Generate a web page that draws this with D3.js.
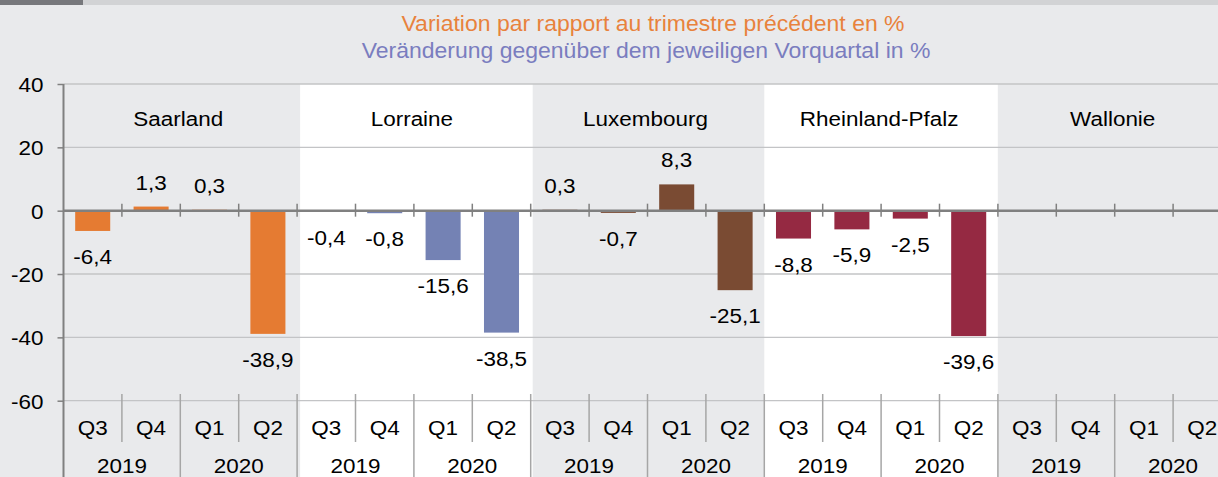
<!DOCTYPE html>
<html>
<head>
<meta charset="utf-8">
<script src="https://cdn.jsdelivr.net/npm/d3@7"></script>
<style>
  html, body { margin: 0; padding: 0; background: #e9eaec; }
  svg { display: block; font-family: "Liberation Sans", Arial, sans-serif; }
</style>
</head>
<body>
<svg id="chart" width="1218" height="477"></svg>
<script>
// ---- data ----
const regions = ["Saarland", "Lorraine", "Luxembourg", "Rheinland-Pfalz", "Wallonie"];
const quarters = ["Q3", "Q4", "Q1", "Q2"];
const years = ["2019", "2020"];
const saarland = [-6.4, 1.3, 0.3, -38.9];
const lorraine = [-0.4, -0.8, -15.6, -38.5];
const luxembourg = [0.3, -0.7, 8.3, -25.1];
const rheinlandPfalz = [-8.8, -5.9, -2.5, -39.6];
const wallonie = [null, null, null, null];
const seriesValues = [saarland, lorraine, luxembourg, rheinlandPfalz, wallonie];
const yTicks = [40, 20, 0, -20, -40, -60];
const titleFr = "Variation par rapport au trimestre précédent en %";
const titleDe = "Veränderung gegenüber dem jeweiligen Vorquartal in %";

// ---- styles ----
const colors = ["#e57b32", "#7482b4", "#7a4b33", "#952942", "#999999"];
const bandFill = ["#e9eaec", "#ffffff", "#e9eaec", "#ffffff", "#e9eaec"];
const FS = 21, SX = 1.07;

const svg = d3.select("#chart");
const W = 1218, H = 477;

function stretch(sel, fx, fy, sx) {
  sel.attr("x", 0).attr("y", 0)
    .attr("transform", (d, i) => `translate(${fx(d, i)},${fy(d, i)}) scale(${sx},1)`);
}

// flattened categories
const cats = [];
regions.forEach((r, gi) => quarters.forEach((q, qi) => {
  cats.push({ id: gi + "-" + qi, region: r, gi, qi, q, value: seriesValues[gi][qi] });
}));

const left = 63.5, catW = 58.4;
const x = d3.scaleBand().domain(cats.map(d => d.id))
  .range([left, left + catW * cats.length]).paddingInner(0.4).paddingOuter(0.2);
const step = x.step();
const xStart = x.range()[0];
const y = d3.scaleLinear().domain([-60, 40]).range([400.7, 84]);

// top strip
svg.append("rect").attr("x", 0).attr("y", 0).attr("width", W).attr("height", 5).attr("fill", "#d2d3d5");
svg.append("rect").attr("x", 0).attr("y", 0).attr("width", 83).attr("height", 5).attr("fill", "#77787c");

// background bands
regions.forEach((r, gi) => {
  svg.append("rect")
    .attr("x", xStart + gi * 4 * step + (gi === 1 ? 3 : gi === 2 ? 2 : 0))
    .attr("y", y(40))
    .attr("width", 4 * step)
    .attr("height", H - y(40))
    .attr("fill", bandFill[gi]);
});

// gridlines
svg.append("g").selectAll("line").data(yTicks.filter(t => t !== 0)).join("line")
  .attr("x1", left).attr("x2", W)
  .attr("y1", d => y(d)).attr("y2", d => y(d))
  .attr("stroke", "#c3c4c6").attr("stroke-width", 1.3);

// titles
svg.append("text").attr("text-anchor", "middle").attr("font-size", 22).attr("fill", "#e8823c")
  .text(titleFr).call(stretch, () => 653, () => 31, 1.045);
svg.append("text").attr("text-anchor", "middle").attr("font-size", 22).attr("fill", "#7a7dbf")
  .text(titleDe).call(stretch, () => 646, () => 58, 1.045);

// region labels
svg.append("g").selectAll("text").data(regions).join("text")
  .attr("text-anchor", "middle").attr("font-size", FS).attr("fill", "#000")
  .text(d => d)
  .call(stretch, (d, i) => xStart + (i * 4 + 2) * step - 2, () => 126, SX);

// bars
svg.append("g").selectAll("rect").data(cats.filter(d => d.value != null)).join("rect")
  .attr("x", d => x(d.id))
  .attr("width", x.bandwidth())
  .attr("y", d => y(Math.max(0, d.value)))
  .attr("height", d => Math.abs(y(d.value) - y(0)))
  .attr("fill", d => colors[d.gi]);

// zero line with ticks
svg.append("line").attr("x1", left).attr("x2", W).attr("y1", y(0)).attr("y2", y(0))
  .attr("stroke", "#808080").attr("stroke-width", 2.6);
svg.append("g").selectAll("line").data(d3.range(1, cats.length + 1)).join("line")
  .attr("x1", i => xStart + i * step).attr("x2", i => xStart + i * step)
  .attr("y1", y(0) - 7).attr("y2", y(0) + 6)
  .attr("stroke", "#808080").attr("stroke-width", 1.5);

// value labels
const fmt = v => d3.format(".1f")(v).replace(".", ",").replace("−", "-");
svg.append("g").selectAll("text").data(cats.filter(d => d.value != null)).join("text")
  .attr("text-anchor", "middle").attr("font-size", FS).attr("fill", "#000")
  .text(d => fmt(d.value))
  .call(stretch, d => x(d.id) + x.bandwidth() / 2,
        d => d.value >= 0 ? y(d.value) - 17 : y(d.value) + 33, SX);

// y axis
const yAxis = d3.axisLeft(y).tickValues(yTicks).tickSize(6).tickPadding(14).tickFormat(d => String(d));
const gy = svg.append("g").attr("transform", `translate(${left},0)`).call(yAxis);
gy.select(".domain").remove();
gy.selectAll(".tick line").attr("stroke", "#808080").attr("stroke-width", 1.5);
gy.selectAll(".tick text").attr("font-size", FS).attr("fill", "#000")
  .attr("font-family", "Liberation Sans, Arial, sans-serif")
  .attr("dy", null)
  .call(stretch, () => -20, () => 7.5, SX);
svg.append("line").attr("x1", left).attr("x2", left).attr("y1", y(40)).attr("y2", H)
  .attr("stroke", "#808080").attr("stroke-width", 2);

// category axis lines
svg.append("g").selectAll("line").data(d3.range(1, cats.length + 1)).join("line")
  .attr("x1", i => xStart + i * step).attr("x2", i => xStart + i * step)
  .attr("y1", 394).attr("y2", i => (i % 2 === 0) ? H : 442)
  .attr("stroke", "#a6a6a6").attr("stroke-width", 1.5);

// quarter labels
svg.append("g").selectAll("text").data(cats).join("text")
  .attr("text-anchor", "middle").attr("font-size", FS).attr("fill", "#000")
  .text(d => d.q)
  .call(stretch, (d, i) => xStart + (i + 0.5) * step, () => 435, SX);

// year labels
const yearCells = [];
regions.forEach((r, gi) => years.forEach((yr, yi) => yearCells.push({ gi, yi, yr })));
svg.append("g").selectAll("text").data(yearCells).join("text")
  .attr("text-anchor", "middle").attr("font-size", FS).attr("fill", "#000")
  .text(d => d.yr)
  .call(stretch, d => xStart + (d.gi * 4 + d.yi * 2 + 1) * step, () => 473, SX);
</script>
</body>
</html>
